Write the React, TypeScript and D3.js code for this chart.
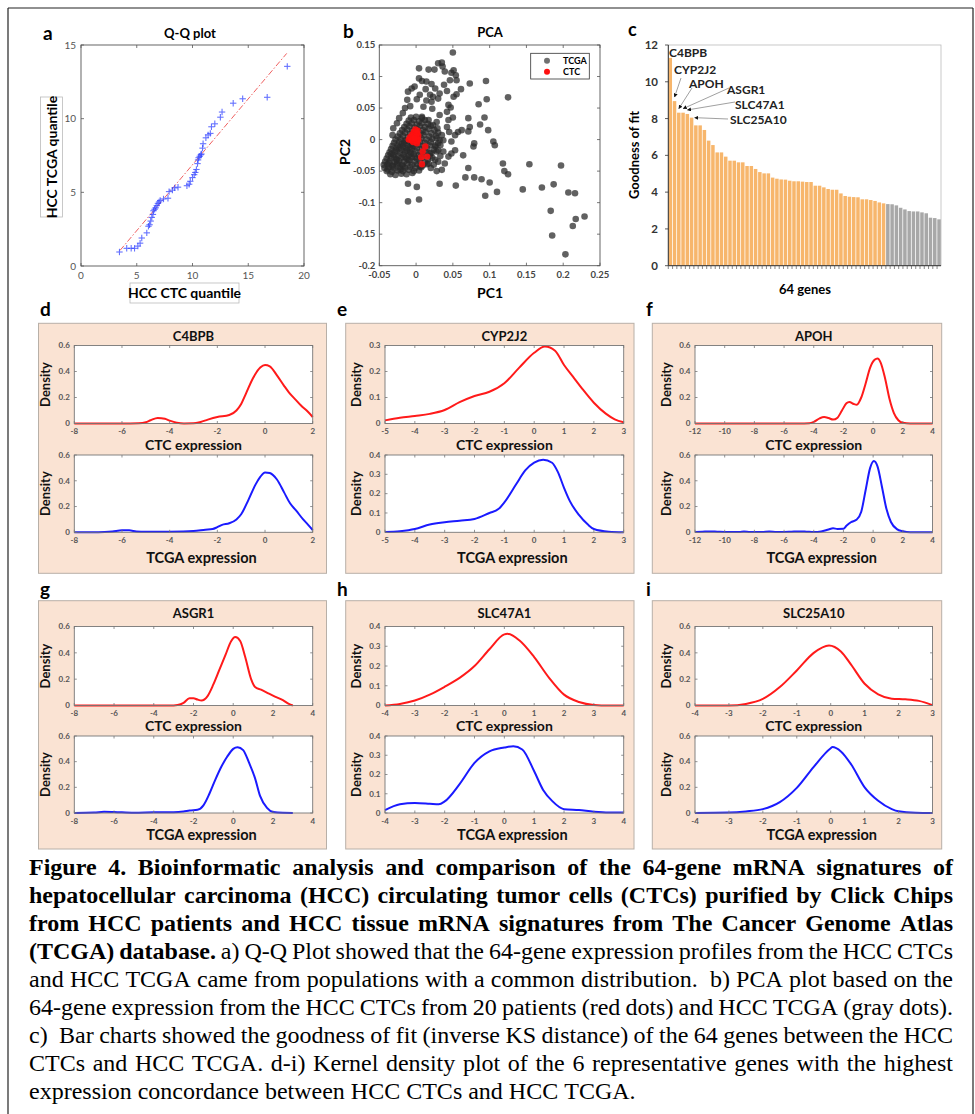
import React from 'react';
import * as d3 from 'd3';

const SANS = "Lato, 'Open Sans', 'DejaVu Sans', sans-serif";
const SERIF = "'Liberation Serif', 'Times New Roman', serif";

// ---------- Panel a: Q-Q plot ----------
const qqPoints: [number, number][] = [
  [3.45, 0.95], [4.1, 1.2], [4.5, 1.2], [4.8, 1.2], [5.1, 1.35], [5.3, 1.55], [5.45, 1.9], [5.9, 2.25],
  [6.05, 2.7], [6.15, 2.8], [6.25, 3.05], [6.35, 3.3], [6.45, 3.5], [6.5, 3.75], [6.6, 3.85], [6.7, 3.95],
  [6.8, 4.1], [6.9, 4.25], [7.0, 4.35], [7.1, 4.45], [7.4, 4.55], [7.8, 4.6], [7.9, 5.05], [8.2, 5.15],
  [8.4, 5.3], [8.7, 5.35], [9.5, 5.45], [9.7, 5.55], [9.8, 5.75], [10.0, 6.0], [10.15, 6.2], [10.25, 6.35],
  [10.35, 6.55], [10.45, 6.95], [10.5, 7.2], [10.55, 7.35], [10.65, 7.45], [10.75, 7.55], [10.8, 7.6],
  [10.9, 8.0], [10.95, 8.3], [11.2, 8.7], [11.4, 8.9], [11.6, 9.0], [11.7, 9.45], [12.0, 9.65], [12.5, 10.1],
  [12.65, 10.45], [13.65, 11.05], [14.5, 11.35], [16.7, 11.45], [18.5, 13.55],
];
const qqRefLine: [number, number][] = [[3.5, 1.06], [18.45, 14.43]];
const qqXTicks = [0, 5, 10, 15, 20];
const qqYTicks = [0, 5, 10, 15];

// ---------- Panel b: PCA ----------
const pcaCluster: [number, number][] = [
  [-0.035, -0.055], [-0.028, -0.056], [-0.02, -0.054], [-0.013, -0.055], [-0.005, -0.053],
  [-0.04, -0.05], [-0.033, -0.051], [-0.025, -0.049], [-0.018, -0.05], [-0.01, -0.048], [-0.003, -0.05], [0.004, -0.049],
  [-0.043, -0.045], [-0.037, -0.044], [-0.03, -0.046], [-0.022, -0.044], [-0.015, -0.045], [-0.008, -0.043], [-0.001, -0.045], [0.007, -0.044],
  [-0.044, -0.04], [-0.039, -0.039], [-0.032, -0.041], [-0.026, -0.039], [-0.019, -0.04], [-0.012, -0.038], [-0.005, -0.04], [0.002, -0.039], [0.009, -0.041], [0.015, -0.039],
  [-0.042, -0.035], [-0.036, -0.034], [-0.029, -0.036], [-0.023, -0.034], [-0.016, -0.035], [-0.009, -0.033], [-0.002, -0.035], [0.005, -0.034], [0.012, -0.036],
  [-0.04, -0.03], [-0.034, -0.029], [-0.027, -0.031], [-0.02, -0.029], [-0.013, -0.03], [-0.006, -0.028], [0.001, -0.03], [0.008, -0.029], [0.016, -0.031], [0.022, -0.029],
  [-0.038, -0.025], [-0.031, -0.024], [-0.024, -0.026], [-0.017, -0.024], [-0.01, -0.025], [-0.003, -0.023], [0.004, -0.025], [0.011, -0.024], [0.019, -0.026],
  [-0.036, -0.02], [-0.029, -0.019], [-0.022, -0.021], [-0.015, -0.019], [-0.008, -0.02], [-0.001, -0.018], [0.006, -0.02], [0.013, -0.019], [0.021, -0.021], [0.028, -0.019],
  [-0.034, -0.015], [-0.027, -0.014], [-0.02, -0.016], [-0.013, -0.014], [-0.006, -0.015], [0.001, -0.013], [0.008, -0.015], [0.015, -0.014], [0.024, -0.016],
  [-0.032, -0.01], [-0.025, -0.009], [-0.018, -0.011], [-0.011, -0.009], [-0.004, -0.01], [0.003, -0.008], [0.01, -0.01], [0.018, -0.009], [0.026, -0.011], [0.033, -0.009],
  [-0.03, -0.005], [-0.023, -0.004], [-0.016, -0.006], [-0.009, -0.004], [-0.002, -0.005], [0.005, -0.003], [0.012, -0.005], [0.02, -0.004], [0.03, -0.006],
  [-0.028, 0.0], [-0.021, 0.001], [-0.014, -0.001], [-0.007, 0.001], [0.0, 0.0], [0.007, 0.002], [0.014, 0.0], [0.022, 0.001], [0.032, -0.001],
  [-0.025, 0.005], [-0.018, 0.006], [-0.011, 0.004], [-0.004, 0.006], [0.003, 0.005], [0.01, 0.007], [0.018, 0.005], [0.027, 0.006],
  [-0.022, 0.01], [-0.015, 0.011], [-0.008, 0.009], [-0.001, 0.011], [0.006, 0.01], [0.013, 0.012], [0.021, 0.01], [0.03, 0.011],
  [-0.019, 0.015], [-0.012, 0.016], [-0.005, 0.014], [0.002, 0.016], [0.009, 0.015], [0.017, 0.017], [0.025, 0.015],
  [-0.016, 0.02], [-0.009, 0.021], [-0.002, 0.019], [0.005, 0.021], [0.012, 0.02], [0.02, 0.022],
  [-0.013, 0.025], [-0.006, 0.026], [0.001, 0.024], [0.008, 0.026], [0.016, 0.025],
  [-0.01, 0.03], [-0.003, 0.031], [0.004, 0.029], [0.012, 0.031], [-0.007, 0.035], [0.0, 0.036], [0.008, 0.034],
  [0.02, -0.045], [0.028, -0.05], [0.035, -0.048], [0.024, -0.04], [0.03, -0.035],
  [-0.0385, -0.0475], [-0.0315, -0.0425], [-0.0245, -0.0375], [-0.0175, -0.0425], [-0.0105, -0.0325], [-0.0335, -0.0225], [-0.0265, -0.0175],
  [-0.0195, -0.0075], [-0.0125, -0.0175], [-0.0055, -0.0075], [-0.0265, -0.0325], [-0.0155, -0.0275], [-0.0075, -0.0225], [-0.0215, -0.0475],
  [-0.0365, -0.0375], [-0.0295, -0.0275], [-0.0225, -0.0125], [-0.0155, -0.0025], [-0.0085, -0.0125], [-0.0015, -0.0275], [0.0055, -0.0425],
];
const pcaOutliers: [number, number][] = [
  [0.05, 0.138], [0.095, 0.093], [0.125, 0.067], [0.096, 0.064], [0.085, 0.056], [0.093, 0.035], [0.087, 0.024],
  [0.105, -0.003], [0.107, -0.009], [0.118, -0.038], [0.12, -0.05], [0.125, -0.055], [0.154, -0.039], [0.197, -0.041],
  [0.145, -0.079], [0.171, -0.076], [0.187, -0.071], [0.207, -0.084], [0.216, -0.085], [0.183, -0.113], [0.185, -0.152],
  [0.213, -0.137], [0.217, -0.126], [0.229, -0.122], [0.203, -0.182], [0.11, -0.083], [0.1, -0.068], [0.094, -0.089],
  [0.089, -0.063], [0.079, -0.06], [0.067, -0.06], [0.054, -0.073], [0.032, -0.07], [0.001, -0.075], [-0.011, -0.07],
  [0.004, -0.095], [-0.011, -0.098], [0.071, -0.045], [0.064, -0.025], [0.053, -0.017], [0.078, -0.011], [0.079, -0.006],
  [0.071, 0.013], [0.062, 0.015], [0.057, 0.012], [0.098, 0.015], [0.073, 0.02], [0.071, 0.034], [0.073, 0.089],
  [0.061, 0.08], [0.055, 0.072], [0.051, 0.068], [0.044, 0.055], [0.047, 0.051], [0.042, 0.044], [0.05, 0.035],
  [0.044, 0.031], [0.032, 0.039], [0.028, 0.028], [0.022, 0.049], [0.021, 0.06], [0.032, 0.073], [0.042, 0.077],
  [0.038, 0.087], [0.03, 0.121], [0.035, 0.122], [0.036, 0.116], [0.039, 0.108], [0.048, 0.106], [0.051, 0.11],
  [0.054, 0.102], [0.055, 0.094], [0.046, 0.094], [0.017, 0.111], [0.025, 0.111], [0.004, 0.113], [0.004, 0.097],
  [0.008, 0.093], [0.014, 0.092], [0.021, 0.088], [0.013, 0.08], [0.005, 0.071], [0.001, 0.064], [-0.008, 0.053],
  [-0.006, 0.081], [-0.002, 0.084], [-0.011, 0.076], [-0.012, 0.063], [-0.015, 0.05], [-0.018, 0.042], [-0.023, 0.034],
  [-0.026, 0.026], [-0.031, 0.018], [-0.032, 0.007], [0.01, 0.052], [0.014, 0.062], [0.019, 0.071], [0.026, 0.081],
  [0.03, 0.065], [0.023, 0.068], [0.008, 0.036], [0.017, 0.031], [0.023, 0.023], [0.029, 0.018], [0.035, 0.007],
  [0.037, -0.001], [0.028, 0.002], [0.026, -0.009], [0.03, -0.017], [0.037, -0.019], [0.044, -0.027], [0.033, -0.026],
  [0.026, -0.032], [0.019, -0.022], [0.017, -0.038], [0.039, -0.038], [0.048, -0.022], [0.048, -0.003], [0.053, 0.007],
  [0.045, 0.012], [0.042, 0.02],
];
const pcaCTC: [number, number][] = [
  [-0.01, 0.0], [-0.008, 0.004], [-0.005, 0.008], [-0.003, 0.012], [-0.001, 0.016], [0.001, 0.01], [0.0, 0.004],
  [0.002, -0.002], [-0.004, -0.004], [0.003, 0.006], [-0.006, -0.001], [0.001, -0.006], [0.003, 0.0], [0.002, 0.014],
  [-0.002, 0.002], [0.0125, -0.011], [0.009, -0.019], [0.007, -0.028], [0.015, -0.027], [0.008, -0.039],
];
const pcaXTicks = [-0.05, 0, 0.05, 0.1, 0.15, 0.2, 0.25];
const pcaYTicks = [-0.2, -0.15, -0.1, -0.05, 0, 0.05, 0.1, 0.15];

// ---------- Panel c: goodness of fit ----------
const fitValues = [
  11.3, 8.95, 8.32, 8.32, 8.25, 8.05, 7.63, 7.63, 7.38, 6.8, 6.56, 6.16, 6.16, 5.93, 5.71, 5.71,
  5.62, 5.62, 5.42, 5.42, 5.26, 5.09, 5.02, 5.02, 4.79, 4.73, 4.69, 4.68, 4.62, 4.59, 4.59, 4.57,
  4.55, 4.55, 4.35, 4.35, 4.26, 4.17, 4.13, 4.13, 3.93, 3.79, 3.75, 3.73, 3.72, 3.61, 3.61, 3.57,
  3.52, 3.44, 3.39, 3.35, 3.34, 3.28, 3.15, 3.06, 2.97, 2.95, 2.95, 2.9, 2.85, 2.61, 2.59, 2.52,
];
const orangeCount = 51;
const fitYTicks = [0, 2, 4, 6, 8, 10, 12];
const annotatedGenes = ['C4BPB', 'CYP2J2', 'APOH', 'ASGR1', 'SLC47A1', 'SLC25A10'];

// ---------- Panels d-i: kernel densities ----------
type P = [number, number];
const C4BPB_CTC: P[] = [[-8, 0], [-6, 0], [-5.3, 0.002], [-5, 0.01], [-4.8, 0.025], [-4.5, 0.043], [-4.2, 0.036], [-4, 0.022], [-3.7, 0.006], [-3.4, 0], [-3, 0.001], [-2.7, 0.012], [-2.4, 0.03], [-2, 0.05], [-1.5, 0.065], [-1.2, 0.1], [-1, 0.15], [-0.8, 0.23], [-0.5, 0.35], [-0.2, 0.43], [0, 0.45], [0.2, 0.44], [0.5, 0.37], [0.8, 0.29], [1.0, 0.24], [1.3, 0.18], [1.5, 0.14], [1.8, 0.09], [2, 0.05]];
const C4BPB_TCGA: P[] = [[-8, 0], [-7, 0], [-6.4, 0.006], [-6, 0.015], [-5.7, 0.015], [-5.4, 0.007], [-5, 0.004], [-4, 0.005], [-3, 0.01], [-2.5, 0.02], [-2.2, 0.025], [-2, 0.04], [-1.8, 0.058], [-1.5, 0.07], [-1.2, 0.1], [-1, 0.14], [-0.7, 0.25], [-0.4, 0.37], [-0.2, 0.43], [0, 0.465], [0.2, 0.46], [0.5, 0.41], [0.8, 0.31], [1.05, 0.225], [1.3, 0.17], [1.6, 0.1], [1.8, 0.06], [2, 0.018]];
const CYP2J2_CTC: P[] = [[-5, 0.012], [-4.5, 0.022], [-4, 0.029], [-3.5, 0.037], [-3, 0.052], [-2.5, 0.082], [-2, 0.106], [-1.5, 0.122], [-1, 0.155], [-0.5, 0.215], [0, 0.272], [0.36, 0.296], [0.7, 0.28], [1, 0.225], [1.3, 0.18], [1.6, 0.135], [2, 0.08], [2.4, 0.038], [2.7, 0.016], [3, 0.005]];
const CYP2J2_TCGA: P[] = [[-5, 0.002], [-4.5, 0.006], [-4, 0.017], [-3.5, 0.04], [-3, 0.052], [-2.5, 0.06], [-2, 0.069], [-1.5, 0.1], [-1.2, 0.12], [-1, 0.155], [-0.6, 0.25], [-0.3, 0.32], [0, 0.36], [0.3, 0.375], [0.6, 0.36], [0.8, 0.31], [1, 0.23], [1.2, 0.16], [1.5, 0.09], [1.8, 0.04], [2, 0.017], [2.5, 0.003], [3, 0]];
const APOH_CTC: P[] = [[-12, 0], [-5, 0], [-4.3, 0.002], [-4, 0.012], [-3.6, 0.04], [-3.3, 0.05], [-3, 0.042], [-2.7, 0.03], [-2.4, 0.045], [-2.1, 0.1], [-1.8, 0.155], [-1.6, 0.165], [-1.3, 0.15], [-1.1, 0.145], [-0.8, 0.2], [-0.5, 0.31], [-0.2, 0.43], [0.1, 0.49], [0.3, 0.5], [0.5, 0.47], [0.8, 0.35], [1.1, 0.19], [1.4, 0.08], [1.7, 0.025], [2, 0.005], [2.5, 0], [4, 0]];
const APOH_TCGA: P[] = [[-12, 0.003], [-11.5, 0.005], [-11, 0.007], [-10.5, 0.005], [-10, 0.003], [-9, 0.002], [-8.7, 0.006], [-8.3, 0.003], [-7.5, 0.002], [-7, 0.006], [-6.5, 0.003], [-6, 0.003], [-5.5, 0.005], [-5, 0.007], [-4.5, 0.005], [-4, 0.002], [-3.5, 0.006], [-3, 0.022], [-2.7, 0.031], [-2.4, 0.026], [-2, 0.027], [-1.8, 0.05], [-1.5, 0.078], [-1.1, 0.1], [-0.8, 0.16], [-0.5, 0.33], [-0.2, 0.5], [0.05, 0.553], [0.3, 0.51], [0.6, 0.35], [0.9, 0.18], [1.2, 0.08], [1.6, 0.025], [2, 0.008], [2.5, 0], [4, 0]];
const ASGR1_CTC: P[] = [[-8, 0], [-3, 0], [-2.8, 0.003], [-2.5, 0.02], [-2.2, 0.055], [-2, 0.055], [-1.8, 0.045], [-1.6, 0.038], [-1.3, 0.07], [-1, 0.16], [-0.7, 0.27], [-0.4, 0.38], [-0.1, 0.49], [0.1, 0.52], [0.35, 0.49], [0.6, 0.37], [0.9, 0.2], [1.1, 0.14], [1.4, 0.12], [1.8, 0.09], [2.1, 0.068], [2.5, 0.04], [2.8, 0.012], [3, 0]];
const ASGR1_TCGA: P[] = [[-8, 0], [-7, 0.003], [-6.5, 0.01], [-6, 0.008], [-5, 0.002], [-4, 0.005], [-3, 0.006], [-2.5, 0.012], [-2.2, 0.02], [-1.8, 0.025], [-1.5, 0.06], [-1.2, 0.15], [-0.9, 0.26], [-0.6, 0.36], [-0.3, 0.44], [0, 0.5], [0.22, 0.513], [0.5, 0.49], [0.8, 0.39], [1.1, 0.27], [1.35, 0.133], [1.7, 0.04], [2, 0.008], [2.5, 0.001], [3, 0]];
const SLC47A1_CTC: P[] = [[-4, 0], [-3.5, 0.008], [-3, 0.025], [-2.5, 0.055], [-2, 0.095], [-1.5, 0.14], [-1, 0.2], [-0.5, 0.285], [0, 0.36], [0.1, 0.363], [0.5, 0.33], [1, 0.245], [1.5, 0.14], [2, 0.055], [2.5, 0.018], [3, 0.003], [3.5, 0], [4, 0]];
const SLC47A1_TCGA: P[] = [[-4, 0.015], [-3.5, 0.045], [-3, 0.052], [-2.5, 0.048], [-2.2, 0.045], [-2, 0.06], [-1.5, 0.15], [-1, 0.26], [-0.5, 0.32], [0, 0.34], [0.3, 0.347], [0.6, 0.33], [1, 0.217], [1.3, 0.12], [1.6, 0.063], [2, 0.02], [2.5, 0.015], [3, 0.007], [3.5, 0.003], [4, 0.003]];
const SLC25A10_CTC: P[] = [[-4, 0], [-3, 0], [-2.5, 0.012], [-2, 0.05], [-1.5, 0.14], [-1, 0.266], [-0.5, 0.4], [-0.05, 0.456], [0.3, 0.41], [0.6, 0.31], [1, 0.165], [1.4, 0.085], [1.8, 0.052], [2.2, 0.047], [2.6, 0.035], [3, 0.003]];
const SLC25A10_TCGA: P[] = [[-4, 0], [-3, 0.003], [-2.5, 0.012], [-2, 0.03], [-1.5, 0.085], [-1, 0.196], [-0.5, 0.36], [0, 0.505], [0.05, 0.514], [0.3, 0.48], [0.6, 0.38], [1, 0.2], [1.4, 0.095], [1.8, 0.03], [2, 0.013], [2.5, 0.002], [3, 0]];

const densityGenes = [
  { letter: 'd', name: 'C4BPB', xDom: [-8, 2], xTicks: [-8, -6, -4, -2, 0, 2], ctc: C4BPB_CTC, tcga: C4BPB_TCGA, ctcTicks: [0, 0.2, 0.4, 0.6], tcgaTicks: [0, 0.2, 0.4, 0.6] },
  { letter: 'e', name: 'CYP2J2', xDom: [-5, 3], xTicks: [-5, -4, -3, -2, -1, 0, 1, 2, 3], ctc: CYP2J2_CTC, tcga: CYP2J2_TCGA, ctcTicks: [0, 0.1, 0.2, 0.3], tcgaTicks: [0, 0.1, 0.2, 0.3, 0.4] },
  { letter: 'f', name: 'APOH', xDom: [-12, 4], xTicks: [-12, -10, -8, -6, -4, -2, 0, 2, 4], ctc: APOH_CTC, tcga: APOH_TCGA, ctcTicks: [0, 0.2, 0.4, 0.6], tcgaTicks: [0, 0.2, 0.4, 0.6] },
  { letter: 'g', name: 'ASGR1', xDom: [-8, 4], xTicks: [-8, -6, -4, -2, 0, 2, 4], ctc: ASGR1_CTC, tcga: ASGR1_TCGA, ctcTicks: [0, 0.2, 0.4, 0.6], tcgaTicks: [0, 0.2, 0.4, 0.6] },
  { letter: 'h', name: 'SLC47A1', xDom: [-4, 4], xTicks: [-4, -3, -2, -1, 0, 1, 2, 3, 4], ctc: SLC47A1_CTC, tcga: SLC47A1_TCGA, ctcTicks: [0, 0.1, 0.2, 0.3, 0.4], tcgaTicks: [0, 0.1, 0.2, 0.3, 0.4] },
  { letter: 'i', name: 'SLC25A10', xDom: [-4, 3], xTicks: [-4, -3, -2, -1, 0, 1, 2, 3], ctc: SLC25A10_CTC, tcga: SLC25A10_TCGA, ctcTicks: [0, 0.2, 0.4, 0.6], tcgaTicks: [0, 0.2, 0.4, 0.6] },
];

// ---------- Caption ----------
const captionLines: [string, string][] = [
  ['Figure 4. Bioinformatic analysis and comparison of the 64-gene mRNA signatures of', ''],
  ['hepatocellular carcinoma (HCC) circulating tumor cells (CTCs) purified by Click Chips', ''],
  ['from HCC patients and HCC tissue mRNA signatures from The Cancer Genome Atlas', ''],
  ['(TCGA) database.', 'a) Q-Q Plot showed that the 64-gene expression profiles from the HCC CTCs'],
  ['', 'and HCC TCGA came from populations with a common distribution.  b) PCA plot based on the'],
  ['', '64-gene expression from the HCC CTCs from 20 patients (red dots) and HCC TCGA (gray dots).'],
  ['', 'c)  Bar charts showed the goodness of fit (inverse KS distance) of the 64 genes between the HCC'],
  ['', 'CTCs and HCC TCGA. d-i) Kernel density plot of the 6 representative genes with the highest'],
  ['', 'expression concordance between HCC CTCs and HCC TCGA.'],
];

// ---------- helpers ----------
function BoxAxes(props: {
  x: d3.ScaleLinear<number, number>; y: d3.ScaleLinear<number, number>;
  xTicks: number[]; yTicks: number[]; fs: number; bold?: boolean; color?: string; tick?: number;
  xLabelDy?: number; yLabelDx?: number; stroke?: string;
}) {
  const { x, y, xTicks, yTicks, fs, bold, tick = 3 } = props;
  const color = props.color || '#444';
  const stroke = props.stroke || '#666';
  const [x0, x1] = x.range();
  const [y0, y1] = y.range(); // y0 bottom
  return (
    <g>
      <rect x={x0} y={y1} width={x1 - x0} height={y0 - y1} fill="none" stroke={stroke} strokeWidth={0.9} />
      {xTicks.map((t) => (
        <g key={'x' + t}>
          <line x1={x(t)} x2={x(t)} y1={y0} y2={y0 - tick} stroke={stroke} strokeWidth={0.8} />
          <line x1={x(t)} x2={x(t)} y1={y1} y2={y1 + tick} stroke={stroke} strokeWidth={0.8} />
          <text x={x(t)} y={y0 + fs + (props.xLabelDy || 2)} textAnchor="middle" fontSize={fs} fontFamily={SANS} fontWeight={bold ? 700 : 400} fill={color}>{String(t)}</text>
        </g>
      ))}
      {yTicks.map((t) => (
        <g key={'y' + t}>
          <line x1={x0} x2={x0 + tick} y1={y(t)} y2={y(t)} stroke={stroke} strokeWidth={0.8} />
          <line x1={x1} x2={x1 - tick} y1={y(t)} y2={y(t)} stroke={stroke} strokeWidth={0.8} />
          <text x={x0 - (props.yLabelDx || 4)} y={y(t) + fs * 0.35} textAnchor="end" fontSize={fs} fontFamily={SANS} fontWeight={bold ? 700 : 400} fill={color}>{String(t)}</text>
        </g>
      ))}
    </g>
  );
}

let measureCtx: CanvasRenderingContext2D | null = null;
function textWidth(t: string, font: string): number {
  if (!measureCtx) measureCtx = document.createElement('canvas').getContext('2d');
  if (!measureCtx) return t.length * 10;
  measureCtx.font = font;
  return measureCtx.measureText(t).width;
}

function Caption() {
  const fs = 24;
  const left = 29, right = 953;
  const top = 875, lh = 28;
  const fontFor = (b: boolean) => `${b ? 'bold ' : ''}${fs}px ${SERIF}`;
  return (
    <g>
      {captionLines.map((ln, i) => {
        const toks: { w: string; b: boolean; units: number }[] = [];
        const pushPart = (s: string, b: boolean) => {
          if (!s) return;
          const parts = s.split(' ');
          let units = toks.length ? 1 : 0;
          parts.forEach((p) => {
            if (p === '') { units += 1; return; }
            toks.push({ w: p, b, units });
            units = 1;
          });
        };
        pushPart(ln[0], true);
        pushPart(ln[1], false);
        const widths = toks.map((t) => textWidth(t.w, fontFor(t.b)));
        const spaceW = textWidth(' ', fontFor(false));
        const gaps = toks.slice(1).map((t) => t.units);
        const natural = widths.reduce((a, b) => a + b, 0) + gaps.reduce((a, b) => a + b * spaceW, 0);
        const isLast = i === captionLines.length - 1;
        const extra = isLast ? 0 : (right - left - natural) / Math.max(1, gaps.length);
        let xx = left;
        const y = top + i * lh;
        return (
          <g key={i}>
            {toks.map((t, j) => {
              if (j > 0) xx += t.units * spaceW + extra;
              const el = (
                <text key={j} x={xx} y={y} fontSize={fs} fontFamily={SERIF} fontWeight={t.b ? 700 : 400} fill="#000">{t.w}</text>
              );
              xx += widths[j];
              return el;
            })}
          </g>
        );
      })}
    </g>
  );
}

function QQPanel() {
  const x = d3.scaleLinear().domain([0, 20]).range([81, 304]);
  const y = d3.scaleLinear().domain([0, 15]).range([266, 45]);
  const line = d3.line<[number, number]>().x((d) => x(d[0])).y((d) => y(d[1]));
  return (
    <g>
      <text x={43} y={40} fontSize={19} fontWeight={700} fontFamily={SANS}>a</text>
      <text x={190} y={38} fontSize={13} fontWeight={700} fontFamily={SANS} textAnchor="middle">Q-Q plot</text>
      <rect x={81} y={45} width={223} height={221} fill="#fff" />
      <path d={line(qqRefLine) || ''} stroke="#f06060" strokeWidth={1} strokeDasharray="6,2,1.5,2" fill="none" />
      {qqPoints.map((p, i) => (
        <g key={i} stroke="#2a3cff" strokeWidth={1.1} opacity={0.72}>
          <line x1={x(p[0]) - 3.2} x2={x(p[0]) + 3.2} y1={y(p[1])} y2={y(p[1])} />
          <line x1={x(p[0])} x2={x(p[0])} y1={y(p[1]) - 3.2} y2={y(p[1]) + 3.2} />
        </g>
      ))}
      <BoxAxes x={x} y={y} xTicks={qqXTicks} yTicks={qqYTicks} fs={10} tick={3} color="#555" stroke="#555" xLabelDy={3} yLabelDx={5} />
      <rect x={40.5} y={97} width={22} height={120} fill="#fff" stroke="#bbb" strokeWidth={0.8} />
      <text transform="translate(57,157) rotate(-90)" textAnchor="middle" fontSize={14} fontWeight={700} fontFamily={SANS}>HCC TCGA quantile</text>
      <rect x={130} y={283} width={109} height={20} fill="#fff" stroke="#bbb" strokeWidth={0.8} />
      <text x={184.5} y={298} textAnchor="middle" fontSize={14} fontWeight={700} fontFamily={SANS}>HCC CTC quantile</text>
    </g>
  );
}

function PCAPanel() {
  const x = d3.scaleLinear().domain([-0.05, 0.25]).range([379.3, 600]);
  const y = d3.scaleLinear().domain([-0.2, 0.15]).range([265.7, 45]);
  const tcga = [...pcaCluster, ...pcaOutliers];
  return (
    <g>
      <text x={343} y={38} fontSize={19} fontWeight={700} fontFamily={SANS}>b</text>
      <text x={490} y={37} fontSize={13} fontWeight={700} fontFamily={SANS} textAnchor="middle">PCA</text>
      {tcga.map((p, i) => (
        <circle key={i} cx={x(p[0])} cy={y(p[1])} r={3.3} fill="#2a2a2a" opacity={0.74} />
      ))}
      {pcaCTC.map((p, i) => (
        <circle key={i} cx={x(p[0])} cy={y(p[1])} r={3.2} fill="#ff1010" opacity={0.9} />
      ))}
      <BoxAxes x={x} y={y} xTicks={pcaXTicks} yTicks={pcaYTicks} fs={9.5} bold tick={3} color="#444" stroke="#555" xLabelDy={3} yLabelDx={4} />
      <rect x={530.7} y={53.3} width={58.6} height={25.7} fill="#fff" stroke="#333" strokeWidth={0.8} />
      <circle cx={547} cy={60.8} r={3} fill="#404040" opacity={0.75} />
      <text x={563} y={64} fontSize={9} fontWeight={700} fontFamily={SANS}>TCGA</text>
      <circle cx={547} cy={71.8} r={3} fill="#ff1010" />
      <text x={563} y={75} fontSize={9} fontWeight={700} fontFamily={SANS}>CTC</text>
      <text transform="translate(350,152) rotate(-90)" textAnchor="middle" fontSize={14} fontWeight={700} fontFamily={SANS}>PC2</text>
      <text x={490} y={298} textAnchor="middle" fontSize={14} fontWeight={700} fontFamily={SANS}>PC1</text>
    </g>
  );
}

function BarPanel() {
  const x = d3.scaleBand<number>().domain(d3.range(fitValues.length)).range([668.3, 941]).paddingInner(0.18).paddingOuter(0.05);
  const y = d3.scaleLinear().domain([0, 12]).range([265.7, 45]);
  const step = x.step();
  const labels = [
    { gene: annotatedGenes[0], lx: 669, ly: 57, ax: null as null | [number, number] },
    { gene: annotatedGenes[1], lx: 674, ly: 74, ax: [681, 78] as [number, number] },
    { gene: annotatedGenes[2], lx: 689, ly: 88, ax: [692, 88] as [number, number] },
    { gene: annotatedGenes[3], lx: 727, ly: 94, ax: [729, 88] as [number, number] },
    { gene: annotatedGenes[4], lx: 735, ly: 109, ax: [735, 102] as [number, number] },
    { gene: annotatedGenes[5], lx: 730, ly: 123.5, ax: [728, 119] as [number, number] },
  ];
  return (
    <g>
      <defs>
        <marker id="arrowHead" viewBox="0 0 6 6" refX={5.5} refY={3} markerWidth={5} markerHeight={5} orient="auto">
          <path d="M0,0L6,3L0,6z" fill="#111" />
        </marker>
      </defs>
      <text x={628} y={36} fontSize={18} fontWeight={700} fontFamily={SANS}>c</text>
      <rect x={668.3} y={45} width={941 - 668.3} height={220.7} fill="none" stroke="#bbb" strokeWidth={0.8} />
      {fitValues.map((v, i) => (
        <rect key={i} x={x(i)} y={y(v)} width={x.bandwidth()} height={y(0) - y(v)} fill={i < orangeCount ? '#F7B66C' : '#A8A8A8'} />
      ))}
      <line x1={668.3} x2={668.3} y1={45} y2={265.7} stroke="#333" strokeWidth={1} />
      <line x1={668.3} x2={941} y1={265.7} y2={265.7} stroke="#333" strokeWidth={1} />
      {fitValues.map((_, i) => (
        <line key={i} x1={668.3 + i * step} x2={668.3 + i * step} y1={265.7} y2={269} stroke="#555" strokeWidth={0.7} />
      ))}
      {fitYTicks.map((t) => (
        <g key={t}>
          <line x1={665} x2={668.3} y1={y(t)} y2={y(t)} stroke="#333" strokeWidth={0.8} />
          <text x={658} y={y(t) + 4} textAnchor="end" fontSize={11.5} fontWeight={700} fontFamily={SANS} fill="#333">{t}</text>
        </g>
      ))}
      {labels.map((l, i) => {
        const tx = (x(i) || 0) + x.bandwidth() / 2;
        const ty = y(fitValues[i]);
        const end: [number, number] = i === 5 ? [tx + 3, ty] : [tx, ty - 4];
        return (
          <g key={l.gene}>
            {l.ax && (
              <line x1={l.ax[0]} y1={l.ax[1]} x2={end[0]} y2={end[1]} stroke="#888" strokeWidth={0.8} markerEnd="url(#arrowHead)" />
            )}
            <text x={l.lx} y={l.ly} fontSize={12} fontWeight={700} fontFamily={SANS} fill="#222">{l.gene}</text>
          </g>
        );
      })}
      <text transform="translate(639,155) rotate(-90)" textAnchor="middle" fontSize={13} fontWeight={700} fontFamily={SANS}>Goodness of fit</text>
      <text x={805} y={294} textAnchor="middle" fontSize={13} fontWeight={700} fontFamily={SANS}>64 genes</text>
    </g>
  );
}

const densityCols = [
  { bx0: 38.5, bx1: 326.5, ax0: 74.3, ax1: 312.7, lx: 40 },
  { bx0: 345.7, bx1: 634, ax0: 385, ax1: 623.7, lx: 337 },
  { bx0: 652.3, bx1: 941.7, ax0: 695, ax1: 932.5, lx: 646 },
];
const densityRows = [
  { by0: 323.3, by1: 573.3, letterY: 316, titleY: 341, t: [345.5, 423.5], xl1: 449.5, b: [455, 532.3], xl2: 563 },
  { by0: 600.7, by1: 849, letterY: 596, titleY: 618, t: [626.5, 705.5], xl1: 731, b: [736, 813], xl2: 840 },
];

function DensityPlot(props: { x0: number; x1: number; y0: number; y1: number; xDom: number[]; xTicks: number[]; yTicks: number[]; data: P[]; color: string }) {
  const { x0, x1, y0, y1, xDom, xTicks, yTicks, data, color } = props;
  const x = d3.scaleLinear().domain(xDom).range([x0, x1]);
  const y = d3.scaleLinear().domain([0, yTicks[yTicks.length - 1]]).range([y1, y0]);
  const line = d3.line<P>().x((d) => x(d[0])).y((d) => y(d[1])).curve(d3.curveMonotoneX);
  return (
    <g>
      <rect x={x0} y={y0} width={x1 - x0} height={y1 - y0} fill="#fff" />
      <path d={line(data) || ''} fill="none" stroke={color} strokeWidth={2} strokeLinejoin="round" />
      <BoxAxes x={x} y={y} xTicks={xTicks} yTicks={yTicks} fs={8} bold tick={2.5} color="#555" stroke="#777" xLabelDy={2.5} yLabelDx={4.5} />
    </g>
  );
}

function DensityPanel(props: { idx: number }) {
  const g = densityGenes[props.idx];
  const col = densityCols[props.idx % 3];
  const row = densityRows[Math.floor(props.idx / 3)];
  const cx = (col.ax0 + col.ax1) / 2;
  return (
    <g>
      <text x={col.lx} y={row.letterY} fontSize={19} fontWeight={700} fontFamily={SANS}>{g.letter}</text>
      <rect x={col.bx0} y={row.by0} width={col.bx1 - col.bx0} height={row.by1 - row.by0} fill="#FAE3D3" stroke="#b8b0a8" strokeWidth={1} />
      <text x={cx} y={row.titleY} textAnchor="middle" fontSize={13} fontWeight={700} fontFamily={SANS} fill="#111">{g.name}</text>
      <DensityPlot x0={col.ax0} x1={col.ax1} y0={row.t[0]} y1={row.t[1]} xDom={g.xDom} xTicks={g.xTicks} yTicks={g.ctcTicks} data={g.ctc} color="#ff1a1a" />
      <text x={cx} y={row.xl1} textAnchor="middle" fontSize={14} fontWeight={700} fontFamily={SANS} fill="#111">CTC expression</text>
      <DensityPlot x0={col.ax0} x1={col.ax1} y0={row.b[0]} y1={row.b[1]} xDom={g.xDom} xTicks={g.xTicks} yTicks={g.tcgaTicks} data={g.tcga} color="#1a1aff" />
      <text x={cx + 8} y={row.xl2} textAnchor="middle" fontSize={14.5} fontWeight={700} fontFamily={SANS} fill="#111">TCGA expression</text>
      <text transform={`translate(${col.ax0 - 24},${(row.t[0] + row.t[1]) / 2}) rotate(-90)`} textAnchor="middle" fontSize={13} fontWeight={700} fontFamily={SANS} fill="#111">Density</text>
      <text transform={`translate(${col.ax0 - 24},${(row.b[0] + row.b[1]) / 2}) rotate(-90)`} textAnchor="middle" fontSize={13} fontWeight={700} fontFamily={SANS} fill="#111">Density</text>
    </g>
  );
}

export default function App() {
  return (
    <svg width={975} height={1114} style={{ position: 'absolute', left: 0, top: 0, background: '#fff' }}>
      <rect x={0} y={0} width={975} height={1114} fill="#fff" />
      <line x1={8} y1={8} x2={973} y2={8} stroke="#222" strokeWidth={1.2} />
      <line x1={8} y1={8} x2={8} y2={1114} stroke="#222" strokeWidth={1.2} />
      <line x1={973} y1={8} x2={973} y2={1114} stroke="#222" strokeWidth={1.2} />
      <QQPanel />
      <PCAPanel />
      <BarPanel />
      {densityGenes.map((_, i) => <DensityPanel key={i} idx={i} />)}
      <Caption />
    </svg>
  );
}
